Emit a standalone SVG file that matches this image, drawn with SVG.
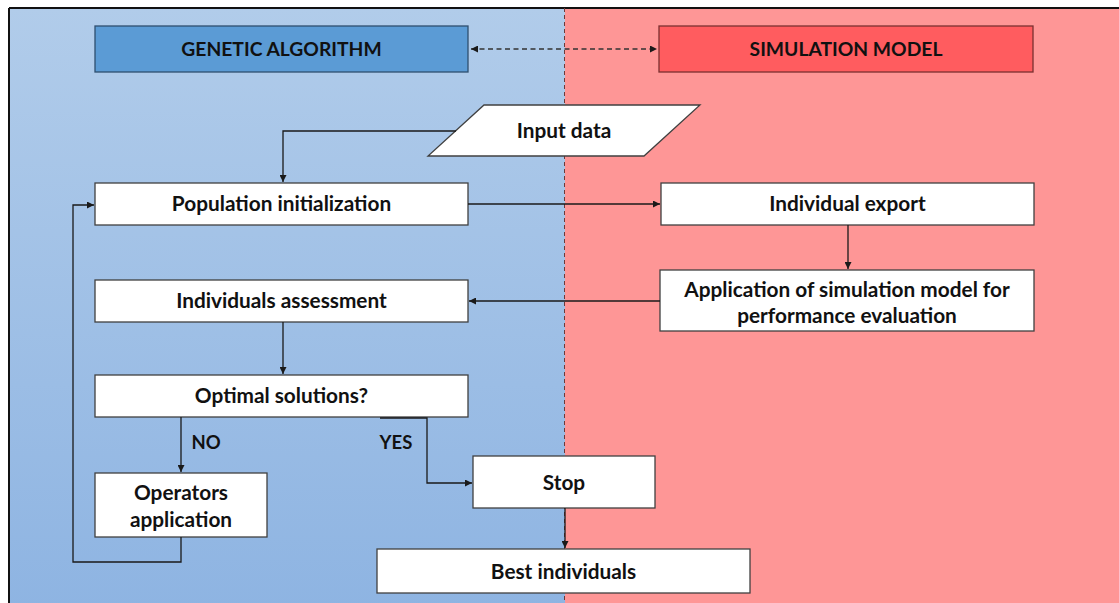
<svg xmlns="http://www.w3.org/2000/svg" width="1119" height="603" viewBox="0 0 1119 603">
<style>
.box{fill:#ffffff;stroke:#404040;stroke-width:1.3}
.t{font-family:Lato,"Liberation Sans",sans-serif;font-weight:bold;font-size:20.8px;fill:#111;text-anchor:middle}
.cap{font-size:19.3px}
.lbl{font-size:18.5px}
.c{fill:none;stroke:#1a1a1a;stroke-width:1.3}
</style>
<defs>
<linearGradient id="blueg" x1="0" y1="0" x2="0" y2="1">
<stop offset="0" stop-color="#B1CCEA"/>
<stop offset="1" stop-color="#8EB4E2"/>
</linearGradient>
<marker id="ah" viewBox="0 0 10 10" refX="10" refY="5" markerWidth="7" markerHeight="7" markerUnits="userSpaceOnUse" orient="auto-start-reverse">
<path d="M0,0 L10,5 L0,10 z" fill="#1a1a1a"/>
</marker>
</defs>
<rect x="0" y="0" width="1119" height="603" fill="#ffffff"/>
<rect x="9" y="8" width="556" height="600" fill="url(#blueg)"/>
<rect x="565" y="8" width="560" height="600" fill="#FE9696"/>
<line x1="9" y1="8" x2="1119" y2="8" stroke="#111" stroke-width="2"/>
<line x1="9" y1="8" x2="9" y2="603" stroke="#111" stroke-width="2"/>
<line x1="564.5" y1="8" x2="564.5" y2="603" stroke="#6b3a3a" stroke-width="1" stroke-dasharray="4,3"/>

<g id="genetic-algorithm">
<rect x="95" y="26" width="373" height="46" fill="#5B9BD5" stroke="#2f4f6f" stroke-width="1.3"/>
<text class="t cap" x="281.5" y="56">GENETIC ALGORITHM</text>
</g>
<g id="simulation-model">
<rect x="659" y="26" width="374" height="46" fill="#FF5C5F" stroke="#7a3030" stroke-width="1.3"/>
<text class="t cap" x="846" y="56">SIMULATION MODEL</text>
</g>
<g id="input-data">
<polygon points="484,105 700,105 644,156 428,156" fill="#ffffff" stroke="#404040" stroke-width="1.3"/>
<text class="t" x="564" y="138">Input data</text>
</g>
<g id="population-initialization">
<rect class="box" x="95" y="183" width="373" height="42"/>
<text class="t" x="281.5" y="211">Population initialization</text>
</g>
<g id="individual-export">
<rect class="box" x="661" y="183" width="373" height="42"/>
<text class="t" x="847.5" y="211">Individual export</text>
</g>
<g id="application-simulation">
<rect class="box" x="660" y="270" width="374" height="61"/>
<text class="t" x="847" y="297">Application of simulation model for</text>
<text class="t" x="847" y="323">performance evaluation</text>
</g>
<g id="individuals-assessment">
<rect class="box" x="95" y="280" width="373" height="42"/>
<text class="t" x="281.5" y="308">Individuals assessment</text>
</g>
<g id="optimal-solutions">
<rect class="box" x="95" y="375" width="373" height="42"/>
<text class="t" x="281.5" y="403">Optimal solutions?</text>
</g>
<g id="operators-application">
<rect class="box" x="95" y="473" width="172" height="64"/>
<text class="t" x="181" y="500">Operators</text>
<text class="t" x="181" y="527">application</text>
</g>
<g id="stop">
<rect class="box" x="473" y="456" width="182" height="52"/>
<text class="t" x="564" y="490">Stop</text>
</g>
<g id="best-individuals">
<rect class="box" x="377" y="549" width="373" height="44"/>
<text class="t" x="563.5" y="579">Best individuals</text>
</g>

<g id="connectors">
<line x1="471" y1="49" x2="657" y2="49" stroke="#333" stroke-width="1.3" stroke-dasharray="5,3.5" marker-start="url(#ah)" marker-end="url(#ah)"/>
<path class="c" d="M456,131 H283 V182" marker-end="url(#ah)"/>
<path class="c" d="M468,204 H660" marker-end="url(#ah)"/>
<path class="c" d="M848,225 V269" marker-end="url(#ah)"/>
<path class="c" d="M660,301 H469" marker-end="url(#ah)"/>
<path class="c" d="M283,322 V374" marker-end="url(#ah)"/>
<path class="c" d="M181,417 V472" marker-end="url(#ah)"/>
<path class="c" d="M181,537 V562 H73 V205 H94" marker-end="url(#ah)"/>
<path class="c" d="M380,418 H427 V483 H472" marker-end="url(#ah)"/>
<path class="c" d="M565,508 V548" marker-end="url(#ah)"/>
<text class="t lbl" x="206" y="449">NO</text>
<text class="t lbl" x="396" y="449">YES</text>
</g>
</svg>
